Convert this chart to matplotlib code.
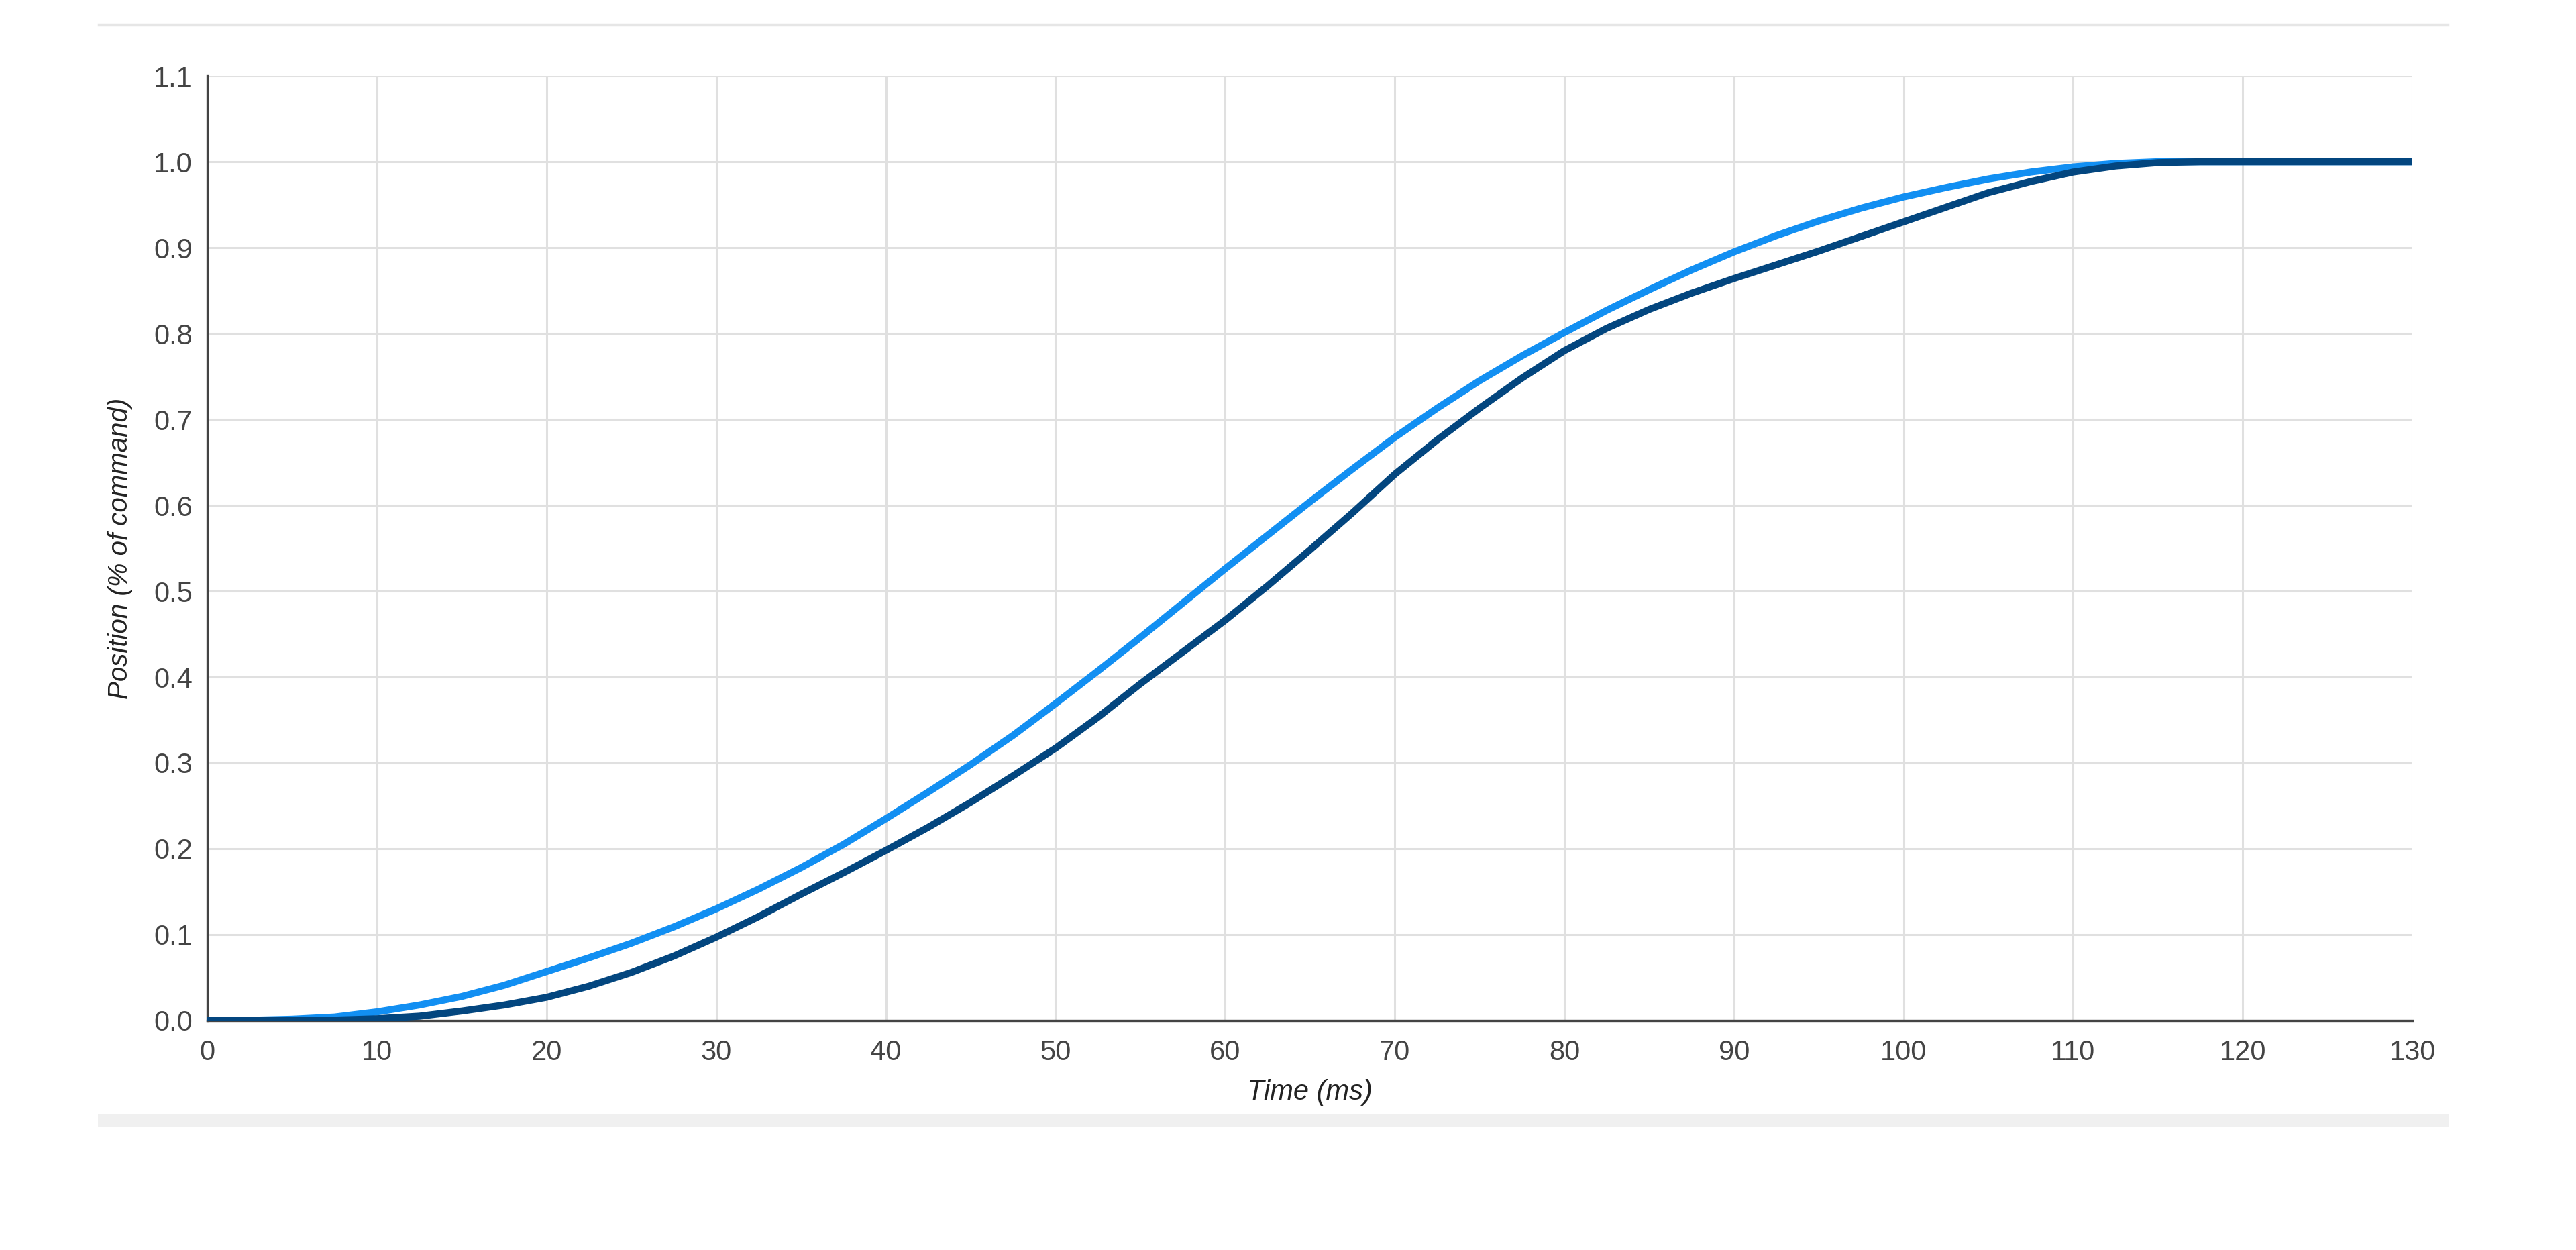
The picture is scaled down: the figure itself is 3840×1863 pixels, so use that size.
import matplotlib
import matplotlib.pyplot as plt
from matplotlib.lines import Line2D
from matplotlib.patches import Rectangle

matplotlib.rcParams["font.family"] = ["Liberation Sans", "DejaVu Sans"]

t_cmd = [0, 2.5, 5, 7.5, 10, 12.5, 15, 17.5, 20, 22.5, 25, 27.5, 30, 32.5, 35,
         37.5, 40, 42.5, 45, 47.5, 50, 52.5, 55, 57.5, 60, 62.5, 65, 67.5, 70,
         72.5, 75, 77.5, 80, 82.5, 85, 87.5, 90, 92.5, 95, 97.5, 100, 102.5,
         105, 107.5, 110, 112.5, 115, 117.5, 130]
pos_cmd = [0, 0.0003, 0.0015, 0.004, 0.010, 0.018, 0.028, 0.041, 0.057, 0.073,
           0.090, 0.109, 0.130, 0.153, 0.178, 0.205, 0.235, 0.266, 0.298, 0.332,
           0.369, 0.407, 0.446, 0.486, 0.526, 0.565, 0.604, 0.642, 0.679, 0.713,
           0.745, 0.774, 0.801, 0.827, 0.851, 0.874, 0.895, 0.914, 0.931, 0.946,
           0.959, 0.970, 0.980, 0.988, 0.994, 0.998, 1.0, 1.0, 1.0]

t_meas = [0, 5, 7.5, 10, 12.5, 15, 17.5, 20, 22.5, 25, 27.5, 30, 32.5, 35, 37.5,
          40, 42.5, 45, 47.5, 50, 52.5, 55, 57.5, 60, 62.5, 65, 67.5, 70, 72.5,
          75, 77.5, 80, 82.5, 85, 87.5, 90, 92.5, 95, 97.5, 100, 102.5, 105,
          107.5, 110, 112.5, 115, 117.5, 130]
pos_meas = [0, 0, 0.0005, 0.002, 0.005, 0.011, 0.018, 0.027, 0.040, 0.056, 0.075,
            0.097, 0.121, 0.147, 0.172, 0.198, 0.225, 0.254, 0.285, 0.317, 0.353,
            0.392, 0.429, 0.466, 0.506, 0.548, 0.591, 0.636, 0.676, 0.713, 0.748,
            0.780, 0.806, 0.828, 0.847, 0.864, 0.880, 0.896, 0.913, 0.930, 0.947,
            0.964, 0.977, 0.988, 0.995, 0.999, 1.0, 1.0]

x_ticks = list(range(0, 131, 10))
y_ticks = [i / 10 for i in range(0, 12)]

fig = plt.figure(figsize=(38.4, 18.63), dpi=100)
ax = fig.add_axes([0.0805, 0.1836, 0.856, 0.7557])

ax.plot(t_cmd, pos_cmd, color="#128ff2", linewidth=7.5, solid_capstyle="round",
        solid_joinstyle="round", zorder=3)
ax.plot(t_meas, pos_meas, color="#03467f", linewidth=7.5, solid_capstyle="round",
        solid_joinstyle="round", zorder=4)

ax.set_xlim(0, 130)
ax.set_ylim(0, 1.1)
ax.set_xticks(x_ticks)
ax.set_yticks(y_ticks)
ax.set_yticklabels([f"{v:.1f}" for v in y_ticks])
ax.grid(True, color="#e0e0e0", linewidth=2.2, zorder=0)
ax.set_axisbelow(True)

for side in ["top", "right"]:
    ax.spines[side].set_visible(False)
for side in ["left", "bottom"]:
    ax.spines[side].set_color("#444444")
    ax.spines[side].set_linewidth(2.4)
    ax.spines[side].set_zorder(2)

ax.tick_params(axis="both", length=0, labelsize=30, labelcolor="#444444")
ax.tick_params(axis="x", pad=20)
ax.tick_params(axis="y", pad=16)

ax.set_xlabel("Time (ms)", fontsize=30, style="italic", color="#222222", labelpad=14)
ax.set_ylabel("Position (% of command)", fontsize=29, style="italic", color="#222222", labelpad=22)

# page decorations around the chart
fig.add_artist(Line2D([147 / 3840, 3649 / 3840], [1 - 37 / 1863, 1 - 37 / 1863],
                      color="#e6e6e6", linewidth=2.5))
fig.add_artist(Rectangle((146 / 3840, 1 - 1680 / 1863), (3651 - 146) / 3840, 20 / 1863,
                         color="#f0f0f0", linewidth=0))

fig.savefig("out.png", dpi=100, facecolor="white")
